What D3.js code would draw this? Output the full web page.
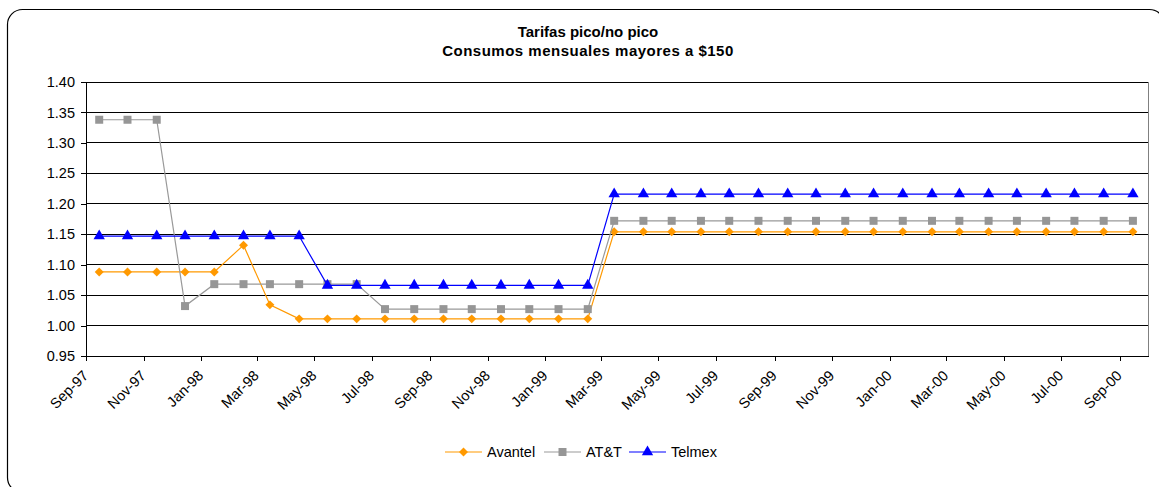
<!DOCTYPE html>
<html>
<head>
<meta charset="utf-8">
<script src="https://cdn.jsdelivr.net/npm/d3@7"></script>
<style>
  body { margin: 0; background: #fff; }
  svg { display: block; font-family: "Liberation Sans", Arial, sans-serif; }
</style>
</head>
<body>
<div id="chart"></div>
<script>
// monthly points, plotted mid-month on a date axis
const months = [
  'Sep-97','Oct-97','Nov-97','Dec-97','Jan-98','Feb-98','Mar-98','Apr-98','May-98','Jun-98',
  'Jul-98','Aug-98','Sep-98','Oct-98','Nov-98','Dec-98','Jan-99','Feb-99','Mar-99','Apr-99',
  'May-99','Jun-99','Jul-99','Aug-99','Sep-99','Oct-99','Nov-99','Dec-99','Jan-00','Feb-00',
  'Mar-00','Apr-00','May-00','Jun-00','Jul-00','Aug-00','Sep-00'
];
const tickLabels = [
  'Sep-97','Nov-97','Jan-98','Mar-98','May-98','Jul-98','Sep-98','Nov-98','Jan-99','Mar-99',
  'May-99','Jul-99','Sep-99','Nov-99','Jan-00','Mar-00','May-00','Jul-00','Sep-00'
];
const avantel = [
  1.088, 1.088, 1.088, 1.088, 1.088, 1.132, 1.034, 1.011, 1.011, 1.011,
  1.011, 1.011, 1.011, 1.011, 1.011, 1.011, 1.011, 1.011, 1.154, 1.154,
  1.154, 1.154, 1.154, 1.154, 1.154, 1.154, 1.154, 1.154, 1.154, 1.154,
  1.154, 1.154, 1.154, 1.154, 1.154, 1.154, 1.154
];
const att = [
  1.338, 1.338, 1.338, 1.032, 1.068, 1.068, 1.068, 1.068, 1.068, 1.068,
  1.027, 1.027, 1.027, 1.027, 1.027, 1.027, 1.027, 1.027, 1.172, 1.172,
  1.172, 1.172, 1.172, 1.172, 1.172, 1.172, 1.172, 1.172, 1.172, 1.172,
  1.172, 1.172, 1.172, 1.172, 1.172, 1.172, 1.172
];
const telmex = [
  1.147, 1.147, 1.147, 1.147, 1.147, 1.147, 1.147, 1.147, 1.066, 1.066,
  1.066, 1.066, 1.066, 1.066, 1.066, 1.066, 1.066, 1.066, 1.216, 1.216,
  1.216, 1.216, 1.216, 1.216, 1.216, 1.216, 1.216, 1.216, 1.216, 1.216,
  1.216, 1.216, 1.216, 1.216, 1.216, 1.216, 1.216
];
const yTicks = [0.95, 1.00, 1.05, 1.10, 1.15, 1.20, 1.25, 1.30, 1.35, 1.40];

const parseMonth = d3.utcParse('%b-%y');
const midMonth = s => d3.utcDay.offset(parseMonth(s), 14);

// Excel-style square diamond
const diamond = { draw(ctx, size) { const r = Math.sqrt(size / 2); ctx.moveTo(0, -r); ctx.lineTo(r, 0); ctx.lineTo(0, r); ctx.lineTo(-r, 0); ctx.closePath(); } };

const series = [
  { name: 'Avantel', values: avantel, color: '#FF9900', stroke: '#FF9900', symbol: diamond, size: 40 },
  { name: 'AT&T', values: att, color: '#969696', stroke: '#999999', symbol: d3.symbolSquare, size: 64 },
  { name: 'Telmex', values: telmex, color: '#0000FF', stroke: '#0000FF', symbol: d3.symbolTriangle, size: 56 }
];

const W = 1159, H = 487;
const plot = { left: 86, right: 1148, top: 82, bottom: 356 };

const svg = d3.select('#chart').append('svg')
  .attr('width', W).attr('height', H);

// chart frame (runs off the right and bottom edges)
svg.append('rect')
  .attr('x', 7.5).attr('y', 9.5)
  .attr('width', 1157).attr('height', 483)
  .attr('rx', 15)
  .attr('fill', '#fff').attr('stroke', '#000').attr('stroke-width', 1.2);

const x = d3.scaleUtc()
  .domain([parseMonth('Sep-97'), d3.utcMonth.offset(parseMonth('Sep-00'), 1)])
  .range([plot.left, plot.right]);
const y = d3.scaleLinear()
  .domain([0.95, 1.40])
  .range([plot.bottom, plot.top]);

// Title
svg.append('text')
  .attr('x', 588).attr('y', 36.5)
  .attr('text-anchor', 'middle')
  .style('font-size', '15px').style('font-weight', 'bold')
  .text('Tarifas pico/no pico');
svg.append('text')
  .attr('x', 588).attr('y', 56)
  .attr('text-anchor', 'middle')
  .style('font-size', '15px').style('font-weight', 'bold')
  .style('letter-spacing', '0.5px')
  .text('Consumos mensuales mayores a $150');

// Grid lines
svg.append('g')
  .selectAll('line')
  .data(yTicks.filter(v => v > 0.95))
  .enter().append('line')
  .attr('x1', plot.left).attr('x2', plot.right)
  .attr('y1', d => y(d)).attr('y2', d => y(d))
  .attr('stroke', '#000').attr('stroke-width', 1)
  .attr('shape-rendering', 'crispEdges');

// right edge of plot area
svg.append('line')
  .attr('x1', plot.right).attr('x2', plot.right)
  .attr('y1', plot.top).attr('y2', plot.bottom)
  .attr('stroke', '#808080').attr('shape-rendering', 'crispEdges');

// Y axis
svg.append('g')
  .attr('transform', `translate(${plot.left},0)`)
  .call(d3.axisLeft(y).tickValues(yTicks).tickFormat(d3.format('.2f')).tickSize(5).tickPadding(6))
  .call(g => g.selectAll('path, line').attr('stroke', '#000').attr('shape-rendering', 'crispEdges'))
  .call(g => g.selectAll('text')
    .style('font-size', '14.5px').style('font-family', '"Liberation Sans", Arial, sans-serif')
    .attr('fill', '#000'));

// X axis
svg.append('g')
  .attr('transform', `translate(0,${plot.bottom})`)
  .call(d3.axisBottom(x).tickValues(tickLabels.map(parseMonth)).tickFormat(d3.utcFormat('%b-%y')).tickSize(5).tickSizeOuter(0))
  .call(g => g.selectAll('path, line').attr('stroke', '#000').attr('shape-rendering', 'crispEdges'))
  .call(g => g.selectAll('text')
    .style('font-size', '14.5px').style('font-family', '"Liberation Sans", Arial, sans-serif')
    .attr('fill', '#000')
    .attr('text-anchor', 'end')
    .attr('y', 0).attr('dy', '0.35em')
    .attr('transform', 'translate(-1,17) rotate(-45)'));

// Lines and markers
const line = d3.line()
  .x((d, i) => x(midMonth(months[i])))
  .y(d => y(d));

series.forEach(s => {
  svg.append('path')
    .datum(s.values)
    .attr('d', line)
    .attr('fill', 'none')
    .attr('stroke', s.stroke)
    .attr('stroke-width', 1.2);

  svg.append('g')
    .selectAll('path')
    .data(s.values)
    .enter().append('path')
    .attr('d', d3.symbol().type(s.symbol).size(s.size))
    .attr('transform', (d, i) => `translate(${x(midMonth(months[i]))},${y(d)})`)
    .attr('fill', s.color);
});

// Legend
const legendX = [445, 544, 629];
const legend = svg.append('g').attr('transform', 'translate(0,452)');
series.forEach((s, i) => {
  const g = legend.append('g').attr('transform', `translate(${legendX[i]},0)`);
  g.append('line')
    .attr('x1', 0).attr('x2', 37)
    .attr('stroke', s.stroke).attr('stroke-width', 1.2);
  g.append('path')
    .attr('d', d3.symbol().type(s.symbol).size(s.size))
    .attr('transform', 'translate(18.5,0)')
    .attr('fill', s.color);
  g.append('text')
    .attr('x', 42).attr('y', 5)
    .style('font-size', '14.5px')
    .text(s.name);
});
</script>
</body>
</html>
